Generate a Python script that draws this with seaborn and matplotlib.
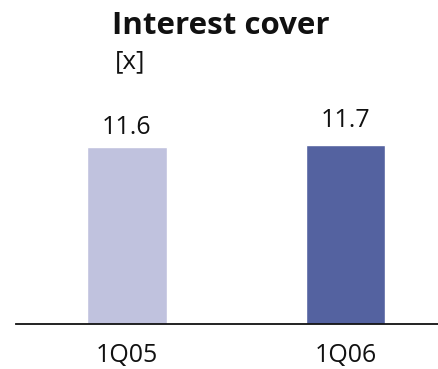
import matplotlib
matplotlib.use("Agg")
import matplotlib.pyplot as plt
import seaborn as sns
import pandas as pd

# Interest cover by quarter
quarters = ["1Q05", "1Q06"]
cover = [11.6, 11.7]
value_labels = ["11.6", "11.7"]
bar_colors = ["#C0C2DE", "#5462A0"]

sns.set_theme(style="white")
plt.rcParams["font.family"] = ["Open Sans", "DejaVu Sans"]

df = pd.DataFrame({"quarter": quarters, "cover": cover})

W, H = 439, 369
fig = plt.figure(figsize=(W / 100, H / 100), dpi=100)
ax = fig.add_axes([16 / W, 45 / H, 423 / W, 224 / H])

sns.barplot(data=df, x="quarter", y="cover", hue="quarter",
            palette=bar_colors, legend=False, width=0.365,
            saturation=1, ax=ax)

ax.set_ylim(0, 11.6 * 224 / 177)
ax.set_xlim(-0.505, 1.427)

# value labels sit just above each bar
label_offsets = [5, 9]
for i, (v, lab) in enumerate(zip(cover, value_labels)):
    ax.annotate(lab, xy=(i, v), xytext=(0, label_offsets[i]),
                textcoords="offset points", ha="center", va="bottom",
                fontsize=18, color="#111111")

for s in ["top", "right", "left"]:
    ax.spines[s].set_visible(False)
ax.spines["bottom"].set_color("#111111")
ax.spines["bottom"].set_linewidth(1.3)
ax.set_yticks([])
ax.set_xlabel("")
ax.set_ylabel("")
ax.tick_params(axis="x", length=0, pad=14, labelsize=18, labelcolor="#111111")

fig.text(112 / W, 1 - 34 / H, "Interest cover", fontsize=22.5, fontweight="bold",
         ha="left", va="baseline", color="#111111")
fig.text(115 / W, 1 - 68 / H, "[x]", fontsize=18.5, ha="left", va="baseline",
         color="#111111")

fig.savefig("out.png", dpi=100)
